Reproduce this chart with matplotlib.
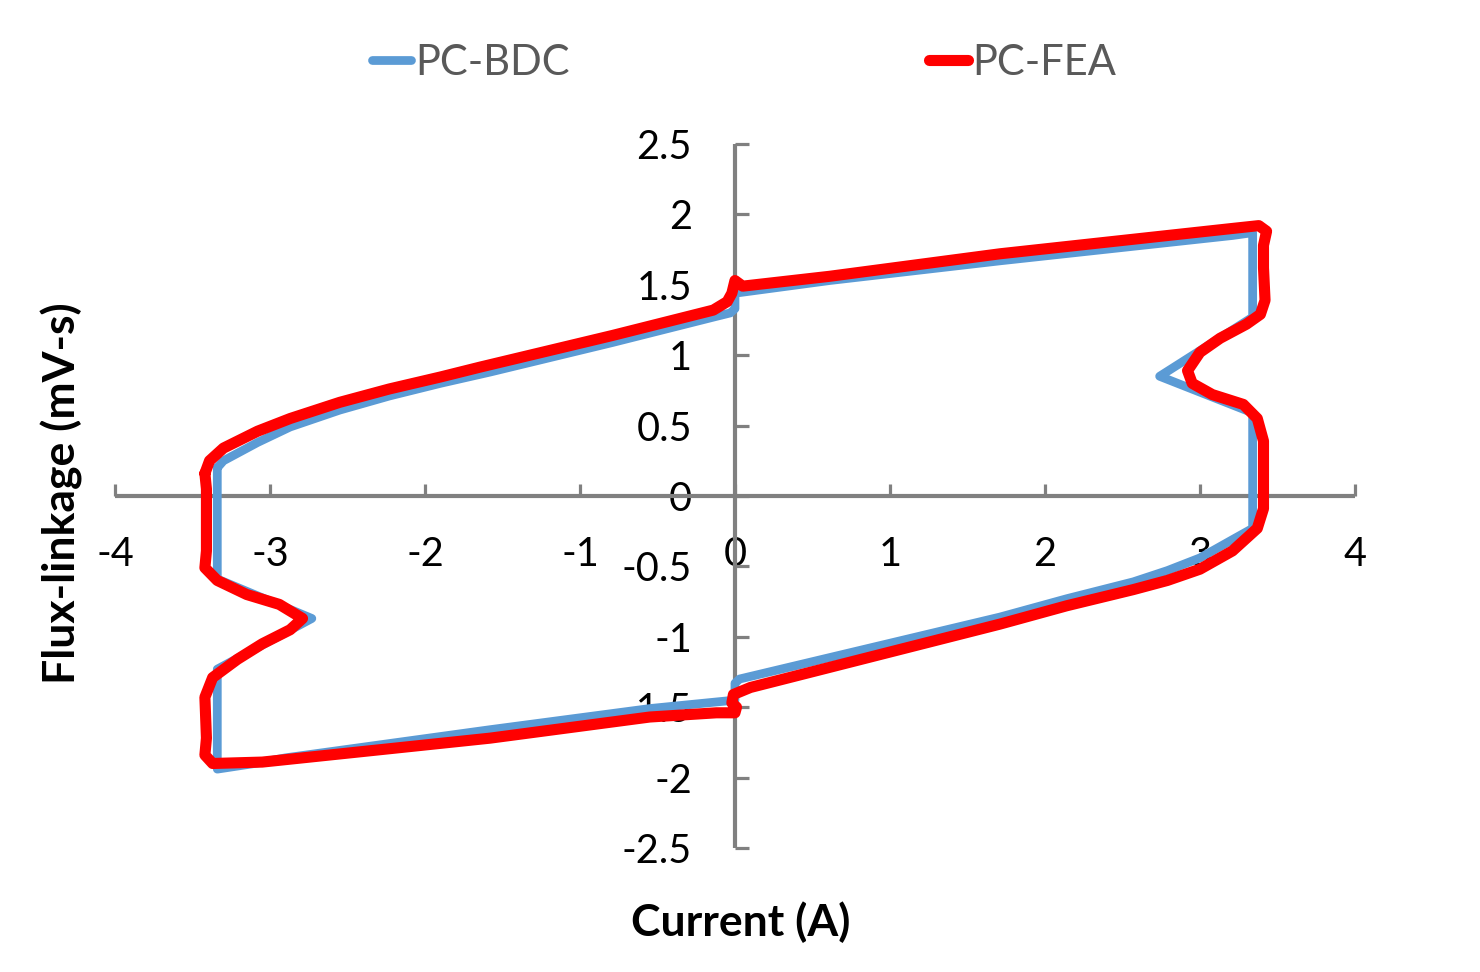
import matplotlib
matplotlib.use('Agg')
import matplotlib.pyplot as plt

# PC-BDC loop (blue), clockwise from the left side
bdc_current = [-3.34, -3.30, -3.08, -2.87, -2.55, -2.23, -1.90, -1.58, -0.79, -0.14,
               -0.03, 0.0, 0.0, 0.61, 1.71, 3.21, 3.34,
               3.34, 2.74, 3.34, 3.34,
               3.21, 3.00, 2.79, 2.57, 2.14, 1.71, 0.03, 0.0, 0.0,
               -0.55, -1.58, -2.90, -3.10, -3.34,
               -3.34, -2.73, -3.34, -3.34]
bdc_flux = [0.20, 0.25, 0.38, 0.49, 0.61, 0.71, 0.80, 0.88, 1.09, 1.27,
            1.30, 1.33, 1.44, 1.53, 1.67, 1.85, 1.87,
            1.27, 0.85, 0.59, -0.23,
            -0.31, -0.44, -0.53, -0.61, -0.73, -0.86, -1.30, -1.33, -1.45,
            -1.51, -1.66, -1.86, -1.90, -1.94,
            -1.23, -0.87, -0.59, 0.20]

# PC-FEA loop (red)
fea_current = [-3.42, -3.39, -3.30, -3.08, -2.87, -2.55, -2.23, -1.90, -1.645, -0.79,
               -0.14, -0.05, -0.02, 0.0, 0.05, 0.61, 1.71, 3.21, 3.38,
               3.43, 3.41, 3.41, 3.42, 3.39, 3.30, 3.13, 3.00, 2.92, 2.95,
               3.08, 3.28, 3.37, 3.41, 3.41, 3.41, 3.37,
               3.21, 3.00, 2.79, 2.57, 2.14, 1.71, 0.10, -0.01, -0.02, 0.01,
               0.0, -0.12, -0.55, -1.58, -3.05, -3.37,
               -3.42, -3.41, -3.42, -3.37, -3.21, -3.05, -2.87, -2.79, -2.94,
               -3.15, -3.34, -3.42, -3.41, -3.41, -3.42]
fea_flux = [0.16, 0.25, 0.34, 0.46, 0.55, 0.665, 0.76, 0.845, 0.915, 1.14,
            1.32, 1.38, 1.44, 1.53, 1.49, 1.56, 1.72, 1.90, 1.92,
            1.88, 1.78, 1.62, 1.39, 1.29, 1.22, 1.12, 1.02, 0.89, 0.80,
            0.72, 0.65, 0.55, 0.39, 0.20, -0.09, -0.23,
            -0.39, -0.52, -0.60, -0.665, -0.78, -0.91, -1.36, -1.41, -1.47, -1.50,
            -1.54, -1.54, -1.57, -1.72, -1.89, -1.90,
            -1.84, -1.72, -1.43, -1.29, -1.16, -1.05, -0.95, -0.87, -0.77,
            -0.70, -0.60, -0.51, -0.39, 0.05, 0.16]

x_ticks = [-4, -3, -2, -1, 0, 1, 2, 3, 4]
y_ticks = [-2.5, -2, -1.5, -1, -0.5, 0, 0.5, 1, 1.5, 2, 2.5]

plt.rcParams['font.family'] = ['Lato', 'DejaVu Sans']
plt.rcParams['axes.unicode_minus'] = False

fig = plt.figure(figsize=(14.8, 9.72), dpi=100)
ax = fig.add_axes([0.0777, 0.1276, 0.8378, 0.7243])

ax.plot(bdc_current, bdc_flux, color='#5b9bd5', lw=6.3, label='PC-BDC',
        solid_joinstyle='round', solid_capstyle='round', zorder=3)
ax.plot(fea_current, fea_flux, color='#ff0000', lw=8.0, label='PC-FEA',
        solid_joinstyle='round', solid_capstyle='round', zorder=4)

ax.set_xlim(-4, 4)
ax.set_ylim(-2.5, 2.5)
ax.set_xticks(x_ticks)
ax.set_yticks(y_ticks)
ax.set_xticklabels([str(t) for t in x_ticks])
ax.set_yticklabels(['%g' % t for t in y_ticks])

for side in ['top', 'right']:
    ax.spines[side].set_visible(False)
ax.spines['left'].set_position(('data', 0))
ax.spines['bottom'].set_position(('data', 0))
for side in ['left', 'bottom']:
    ax.spines[side].set_color('#808080')
    ax.spines[side].set_linewidth(3.0)
    ax.spines[side].set_capstyle('butt')

ax.tick_params(axis='x', direction='in', length=8.5, width=2.3, color='#808080',
               labelsize=28.5, pad=29)
ax.tick_params(axis='y', direction='in', length=10, width=2.3, color='#808080',
               labelsize=28.5, pad=31)
ax.patch.set_visible(False)

fig.text(741 / 1480, 1 - 922 / 972, 'Current (A)', fontsize=32, fontweight='bold',
         ha='center', va='center')
fig.text(62 / 1480, 1 - 493 / 972, 'Flux-linkage (mV-s)', fontsize=32, fontweight='bold',
         ha='center', va='center', rotation=90)

leg = fig.legend(loc='center', bbox_to_anchor=(744 / 1480, 1 - 63 / 972), ncol=2,
                 frameon=False, fontsize=30, handlelength=0.95, handletextpad=0.1,
                 columnspacing=8.6)
for text in leg.get_texts():
    text.set_color('#595959')
for line in leg.get_lines():
    line.set_solid_capstyle('round')

fig.savefig('out.png', dpi=100)
